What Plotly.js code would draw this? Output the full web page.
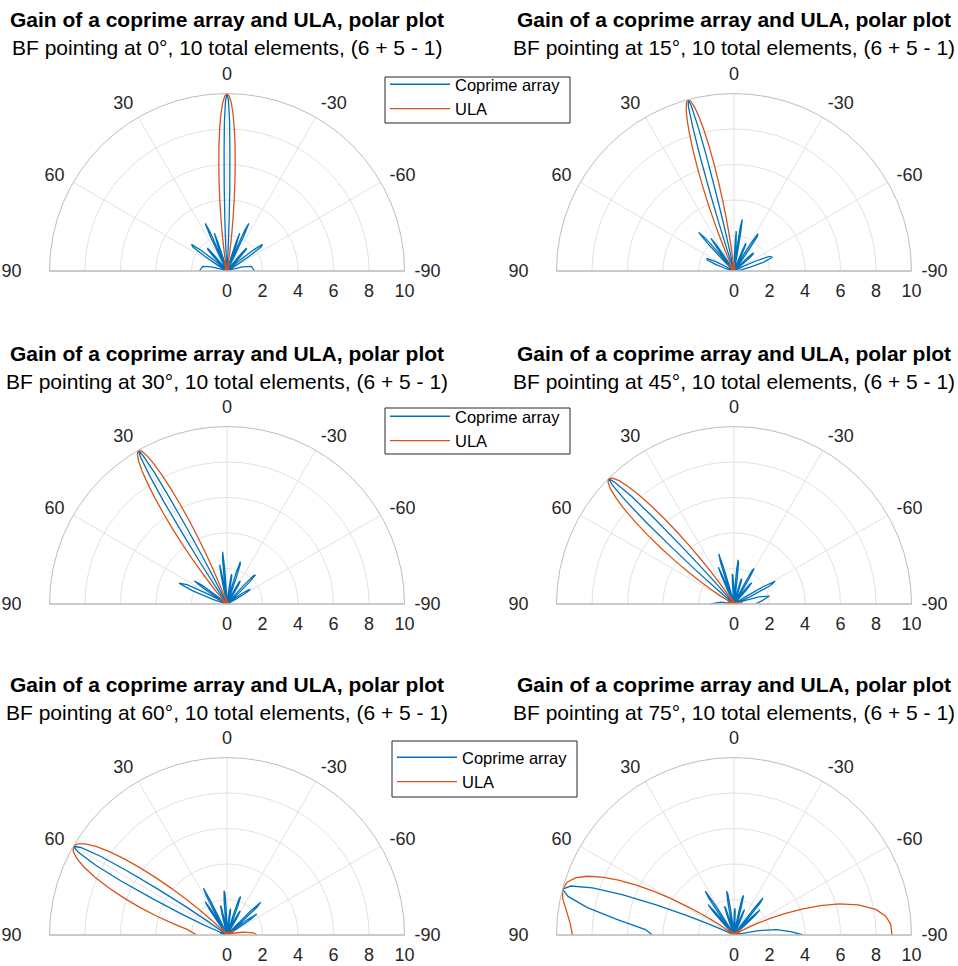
<!DOCTYPE html>
<html>
<head>
<meta charset="utf-8">
<script src="https://cdn.plot.ly/plotly-3.0.1.min.js"></script>
<style>
  html, body { margin: 0; padding: 0; background: #ffffff; }
  #chart { width: 958px; height: 966px; }
</style>
</head>
<body>
<div id="chart"></div>
<script>
// Beam-steering angles of the six panels (degrees)
const steerAngles = [0, 15, 30, 45, 60, 75];
const mainTitle = 'Gain of a coprime array and ULA, polar plot';
const subTitles = steerAngles.map(a => 'BF pointing at ' + a + '°, 10 total elements, (6 + 5 - 1)');
const seriesNames = ['Coprime array', 'ULA'];
const thetaTickVals = [-90, -60, -30, 0, 30, 60, 90];
const thetaTickText = ['-90', '-60', '-30', '0', '30', '60', '90\u2003'];
const gainTickVals = [0, 2, 4, 6, 8, 10];

// Gain patterns as [theta (deg), gain] pairs, theta running from -90 to 90
const coprime00 = [[-90,1.55],[-79.4,1.4],[-75.2,0.9],[-71.8,0.35],[-68.9,0.1],[-64.2,0.1],[-60.1,0.1],[-58.2,0.6],[-56.4,1.5],[-54.8,2.35],[-53.1,2.5],[-51.5,1.9],[-50.1,1.0],[-48.6,0.35],[-47.1,0.1],[-45.8,0.2],[-44.4,0.5],[-43.1,1.1],[-41.8,1.6],[-40.5,1.7],[-39.3,1.2],[-38.1,0.5],[-36.9,0.1],[-34.5,0.1],[-32.2,0.1],[-30,0.2],[-27.8,0.1],[-26.7,0.8],[-25.7,2.1],[-24.6,2.95],[-23.6,2.5],[-22.5,1.1],[-21.5,0.15],[-20.5,0.45],[-19.5,1.6],[-18.5,2.25],[-17.5,1.75],[-16.4,0.75],[-15.5,0.1],[-13.5,0.2],[-11.5,0.1],[-9.6,0.1],[-7.6,0.1],[-5.7,0.4],[-3.8,0.1],[-3.3,0.55],[-2.9,1.5],[-2.4,2.9],[-1.9,4.7],[-1.4,6.7],[-1.0,8.4],[-0.5,9.6],[0,10],[0.5,9.6],[1.0,8.4],[1.4,6.7],[1.9,4.7],[2.4,2.9],[2.9,1.5],[3.3,0.55],[3.8,0.1],[5.7,0.4],[7.6,0.1],[9.6,0.1],[11.5,0.1],[13.5,0.2],[15.5,0.1],[16.4,0.75],[17.5,1.75],[18.5,2.25],[19.5,1.6],[20.5,0.45],[21.5,0.15],[22.5,1.1],[23.6,2.5],[24.6,2.95],[25.7,2.1],[26.7,0.8],[27.8,0.1],[30,0.2],[32.2,0.1],[34.5,0.1],[36.9,0.1],[38.1,0.5],[39.3,1.2],[40.5,1.7],[41.8,1.6],[43.1,1.1],[44.4,0.5],[45.8,0.2],[47.1,0.1],[48.6,0.35],[50.1,1.0],[51.5,1.9],[53.1,2.5],[54.8,2.35],[56.4,1.5],[58.2,0.6],[60.1,0.1],[64.2,0.1],[68.9,0.1],[71.8,0.35],[75.2,0.9],[79.4,1.4],[90,1.55]];

const ula00 = [[-90,0],[-64.2,0.1],[-53.1,0],[-44.4,0.13],[-36.9,0],[-30,0.2],[-23.6,0],[-20.5,0.18],[-17.5,0.49],[-14.5,0.34],[-11.5,0],[-10.8,0.05],[-10.1,0.2],[-9.35,0.48],[-8.6,0.92],[-7.9,1.5],[-7.2,2.24],[-6.46,3.1],[-5.74,4.09],[-5.02,5.13],[-4.3,6.18],[-3.58,7.2],[-2.87,8.12],[-2.15,8.91],[-1.43,9.5],[-0.72,9.86],[0,10],[0.72,9.86],[1.43,9.5],[2.15,8.91],[2.87,8.12],[3.58,7.2],[4.3,6.18],[5.02,5.13],[5.74,4.09],[6.46,3.1],[7.2,2.24],[7.9,1.5],[8.6,0.92],[9.35,0.48],[10.1,0.2],[10.8,0.05],[11.5,0],[14.5,0.34],[17.5,0.49],[20.5,0.18],[23.6,0],[30,0.2],[36.9,0],[44.4,0.13],[53.1,0],[64.2,0.1],[90,0]];

const coprime15 = [[-90,0.2],[-82.4,0.3],[-77.0,0.9],[-73.4,1.75],[-70.25,2.3],[-67.55,2.15],[-65.3,1.35],[-63.0,0.55],[-61.0,0.1],[-57.3,0.1],[-53.9,0.1],[-52.3,0.3],[-50.7,0.8],[-49.3,1.3],[-47.8,1.5],[-46.4,1.4],[-45.1,0.9],[-43.7,0.35],[-42.4,0.1],[-39.9,0.1],[-37.5,0.1],[-36.2,0.6],[-35.05,1.5],[-33.9,2.35],[-32.8,2.5],[-31.6,1.9],[-30.5,1.0],[-29.4,0.35],[-28.3,0.1],[-27.3,0.2],[-26.2,0.5],[-25.1,1.1],[-24.1,1.6],[-23.0,1.7],[-22.0,1.2],[-21.0,0.5],[-19.95,0.1],[-17.95,0.1],[-15.9,0.1],[-14.0,0.2],[-12.0,0.1],[-11.0,0.8],[-10.0,2.1],[-9.1,2.95],[-8.1,2.5],[-7.1,1.1],[-6.2,0.15],[-5.2,0.45],[-4.3,1.6],[-3.3,2.25],[-2.4,1.75],[-1.4,0.75],[-0.5,0.1],[1.5,0.2],[3.4,0.1],[5.3,0.1],[7.2,0.1],[9.1,0.4],[11.1,0.1],[11.6,0.55],[12.05,1.5],[12.5,2.9],[13.05,4.7],[13.5,6.7],[14.0,8.4],[14.5,9.6],[15,10],[15.5,9.6],[16.0,8.4],[16.5,6.7],[17.0,4.7],[17.5,2.9],[18.0,1.5],[18.5,0.55],[19.0,0.1],[21.0,0.4],[23.1,0.1],[25.2,0.1],[27.3,0.1],[29.5,0.2],[31.7,0.1],[32.8,0.75],[34.0,1.75],[35.2,2.25],[36.3,1.6],[37.5,0.45],[38.7,0.15],[39.9,1.1],[41.2,2.5],[42.5,2.95],[43.8,2.1],[45.1,0.8],[46.5,0.1],[49.4,0.2],[52.4,0.1],[55.7,0.1],[59.2,0.1],[61.1,0.5],[63.1,1.2],[65.3,1.7],[67.8,1.6],[70.35,1.1],[73.5,0.5],[77.4,0.2],[82.7,0.1],[90,0.2]];

const ula15 = [[-90,0.05],[-70.25,0],[-57.3,0.1],[-47.8,0],[-39.9,0.1],[-32.8,0],[-26.2,0.13],[-19.95,0],[-14.0,0.2],[-8.1,0],[-5.2,0.18],[-2.4,0.49],[0.5,0.34],[3.4,0],[4.1,0.05],[4.8,0.2],[5.5,0.48],[6.25,0.92],[6.97,1.5],[7.69,2.24],[8.41,3.1],[9.14,4.09],[9.86,5.13],[10.59,6.18],[11.32,7.2],[12.05,8.12],[12.79,8.91],[13.52,9.5],[14.26,9.86],[15,10],[15.74,9.86],[16.49,9.5],[17.24,8.91],[17.99,8.12],[18.74,7.2],[19.5,6.18],[20.26,5.13],[21.03,4.09],[21.8,3.1],[22.57,2.24],[23.35,1.5],[24.13,0.92],[24.92,0.48],[25.71,0.2],[26.51,0.05],[27.31,0],[30.6,0.34],[34.0,0.49],[37.5,0.18],[41.2,0],[49.4,0.2],[59.2,0],[73.5,0.13],[90,0.05]];

const coprime30 = [[-90,0.2],[-75.2,0.1],[-68.9,0.1],[-64.2,0.1],[-62.0,0.45],[-60.1,1.1],[-58.2,1.55],[-56.4,1.45],[-54.8,1.0],[-53.1,0.45],[-51.5,0.2],[-50.1,0.1],[-48.6,0.3],[-47.1,0.9],[-45.8,1.75],[-44.4,2.3],[-43.1,2.15],[-41.8,1.35],[-40.5,0.55],[-39.3,0.1],[-36.9,0.1],[-34.5,0.1],[-33.4,0.3],[-32.2,0.8],[-31.1,1.3],[-30,1.5],[-28.9,1.4],[-27.8,0.9],[-26.7,0.35],[-25.7,0.1],[-23.6,0.1],[-21.5,0.1],[-20.5,0.6],[-19.45,1.5],[-18.5,2.35],[-17.5,2.5],[-16.4,1.9],[-15.5,1.0],[-14.5,0.35],[-13.5,0.1],[-12.5,0.2],[-11.5,0.5],[-10.5,1.1],[-9.6,1.6],[-8.6,1.7],[-7.6,1.2],[-6.7,0.5],[-5.7,0.1],[-3.8,0.1],[-1.9,0.1],[0,0.2],[1.9,0.1],[2.9,0.8],[3.8,2.1],[4.8,2.95],[5.7,2.5],[6.7,1.1],[7.6,0.15],[8.6,0.45],[9.6,1.6],[10.5,2.25],[11.5,1.75],[12.5,0.75],[13.5,0.1],[15.5,0.2],[17.5,0.1],[19.45,0.1],[21.5,0.1],[23.6,0.4],[25.7,0.1],[26.2,0.55],[26.7,1.5],[27.3,2.9],[27.8,4.7],[28.4,6.7],[28.9,8.4],[29.5,9.6],[30,10],[30.5,9.6],[31.1,8.4],[31.7,6.7],[32.2,4.7],[32.8,2.9],[33.4,1.5],[33.9,0.55],[34.5,0.1],[36.9,0.4],[39.3,0.1],[41.8,0.1],[44.4,0.1],[47.1,0.2],[50.1,0.1],[51.5,0.75],[53.1,1.75],[54.8,2.25],[56.4,1.6],[58.2,0.45],[60.1,0.15],[62.0,1.1],[64.2,2.5],[66.5,2.95],[68.9,2.1],[71.8,0.8],[75.2,0.1],[90,0.2]];

const ula30 = [[-90,0.2],[-64.2,0],[-53.1,0.13],[-44.4,0],[-36.9,0.1],[-30,0],[-23.6,0.1],[-17.5,0],[-11.5,0.13],[-5.7,0],[0,0.2],[5.7,0],[8.6,0.18],[11.5,0.49],[14.5,0.34],[17.46,0],[18.21,0.05],[18.97,0.2],[19.72,0.48],[20.49,0.92],[21.25,1.5],[22.02,2.24],[22.8,3.1],[23.58,4.09],[24.36,5.13],[25.15,6.18],[25.94,7.2],[26.74,8.12],[27.55,8.91],[28.36,9.5],[29.17,9.86],[30,10],[30.83,9.86],[31.67,9.5],[32.52,8.91],[33.37,8.12],[34.23,7.2],[35.1,6.18],[35.98,5.13],[36.87,4.09],[37.77,3.1],[38.68,2.24],[39.61,1.5],[40.54,0.92],[41.49,0.48],[42.45,0.2],[43.43,0.05],[44.43,0],[48.6,0.34],[53.1,0.49],[58.2,0.18],[64.2,0],[90,0.2]];

const coprime45 = [[-90,1.2],[-83.2,1.6],[-77.4,2.05],[-73.7,1.45],[-70.55,0.4],[-67.8,0.15],[-65.5,1.0],[-63.2,2.3],[-61.15,2.65],[-59.3,1.9],[-57.45,0.7],[-55.7,0.1],[-52.5,0.2],[-49.5,0.1],[-46.5,0.1],[-43.9,0.1],[-42.5,0.45],[-41.3,1.1],[-40.0,1.55],[-38.75,1.45],[-37.6,1.0],[-36.4,0.45],[-35.2,0.2],[-34.05,0.1],[-32.9,0.3],[-31.7,0.9],[-30.7,1.75],[-29.5,2.3],[-28.4,2.15],[-27.4,1.35],[-26.3,0.55],[-25.2,0.1],[-23.1,0.1],[-21.1,0.1],[-20.05,0.3],[-19.0,0.8],[-18.05,1.3],[-17.0,1.5],[-16.0,1.4],[-15.1,0.9],[-14.1,0.35],[-13.1,0.1],[-11.1,0.1],[-9.2,0.1],[-8.2,0.6],[-7.2,1.5],[-6.3,2.35],[-5.3,2.5],[-4.35,1.9],[-3.4,1.0],[-2.5,0.35],[-1.5,0.1],[-0.6,0.2],[0.4,0.5],[1.4,1.1],[2.3,1.6],[3.3,1.7],[4.25,1.2],[5.2,0.5],[6.15,0.1],[8.05,0.1],[10.0,0.1],[11.95,0.2],[13.9,0.1],[14.9,0.8],[15.9,2.1],[16.9,2.95],[17.9,2.5],[18.9,1.1],[19.9,0.15],[20.9,0.45],[22.0,1.6],[23.0,2.25],[24.0,1.75],[25.1,0.75],[26.1,0.1],[28.3,0.2],[30.5,0.1],[32.7,0.1],[35.0,0.1],[37.4,0.4],[39.8,0.1],[40.5,0.55],[41.1,1.5],[41.7,2.9],[42.4,4.7],[43.0,6.7],[43.6,8.4],[44.4,9.6],[45,10],[45.65,9.6],[46.4,8.4],[47.1,6.7],[47.7,4.7],[48.5,2.9],[49.2,1.5],[49.9,0.55],[50.7,0.1],[53.8,0.4],[57.15,0.1],[60.9,0.1],[65.1,0.1],[70.1,0.2],[76.9,0.1],[81.9,0.75],[90,1.3]];

const ula45 = [[-90,0.45],[-83.2,0.49],[-70.55,0.18],[-63.24,0],[-52.46,0.2],[-43.86,0],[-36.36,0.13],[-29.53,0],[-23.13,0.1],[-17.03,0],[-11.12,0.1],[-5.33,0],[0.41,0.13],[6.15,0],[11.95,0.2],[17.88,0],[20.92,0.18],[24.02,0.49],[27.2,0.34],[30.47,0],[31.31,0.05],[32.15,0.2],[33.0,0.48],[33.86,0.92],[34.72,1.5],[35.6,2.24],[36.48,3.1],[37.38,4.09],[38.29,5.13],[39.21,6.18],[40.13,7.2],[41.08,8.12],[42.03,8.91],[43.0,9.5],[43.99,9.86],[45,10],[46.02,9.86],[47.06,9.5],[48.12,8.91],[49.2,8.12],[50.31,7.2],[51.45,6.18],[52.61,5.13],[53.81,4.09],[55.04,3.1],[56.32,2.24],[57.63,1.5],[58.99,0.92],[60.41,0.48],[61.9,0.2],[63.44,0.05],[65.1,0],[73.14,0.34],[90,0.48]];

const coprime60 = [[-90,0.1],[-75.2,0.1],[-69.1,0.1],[-64.3,0.2],[-60.1,0.1],[-58.3,0.7],[-56.5,1.6],[-54.8,2.05],[-53.2,1.45],[-51.6,0.4],[-50.1,0.15],[-48.7,1.0],[-47.2,2.3],[-45.8,2.65],[-44.5,1.9],[-43.2,0.7],[-41.8,0.1],[-39.35,0.2],[-36.9,0.1],[-34.5,0.1],[-32.3,0.1],[-31.1,0.45],[-30.1,1.1],[-28.95,1.55],[-27.8,1.45],[-26.8,1.0],[-25.7,0.45],[-24.6,0.2],[-23.6,0.1],[-22.6,0.3],[-21.5,0.9],[-20.55,1.75],[-19.5,2.3],[-18.5,2.15],[-17.5,1.35],[-16.5,0.55],[-15.5,0.1],[-13.5,0.1],[-11.6,0.1],[-10.6,0.3],[-9.6,0.8],[-8.7,1.3],[-7.7,1.5],[-6.7,1.4],[-5.8,0.9],[-4.8,0.35],[-3.8,0.1],[-1.95,0.1],[-0.1,0.1],[0.9,0.6],[1.9,1.5],[2.8,2.35],[3.8,2.5],[4.8,1.9],[5.7,1.0],[6.7,0.35],[7.6,0.1],[8.6,0.2],[9.6,0.5],[10.5,1.1],[11.5,1.6],[12.5,1.7],[13.5,1.2],[14.4,0.5],[15.4,0.1],[17.4,0.1],[19.45,0.1],[21.5,0.2],[23.5,0.1],[24.6,0.8],[25.7,2.1],[26.7,2.95],[27.8,2.5],[28.9,1.1],[29.9,0.15],[31.1,0.45],[32.2,1.6],[33.3,2.25],[34.5,1.75],[35.7,0.75],[36.8,0.1],[39.3,0.2],[41.8,0.1],[44.35,0.1],[47.1,0.1],[50.0,0.4],[53.0,0.1],[53.9,0.55],[54.7,1.5],[55.5,2.9],[56.4,4.7],[57.3,6.7],[58.1,8.4],[59.1,9.6],[60,10],[60.9,9.6],[62.0,8.4],[63.0,6.7],[64.0,4.7],[65.2,2.9],[66.4,1.5],[67.5,0.55],[68.9,0.1],[75.0,0.4],[87.4,0.1],[90,0.1]];

const ula60 = [[-90,1.7],[-85.2,1.5],[-79.74,0.92],[-76.3,0.48],[-73.53,0.2],[-71.18,0.05],[-69.07,0],[-62.13,0.34],[-56.51,0.49],[-51.63,0.18],[-47.23,0],[-39.35,0.2],[-32.28,0],[-25.72,0.13],[-19.51,0],[-13.53,0.1],[-7.7,0],[-1.95,0.1],[3.78,0],[9.56,0.13],[15.43,0],[21.47,0.2],[27.77,0],[31.06,0.18],[34.47,0.49],[38.03,0.34],[41.76,0],[42.73,0.05],[43.71,0.2],[44.71,0.48],[45.73,0.92],[46.76,1.5],[47.82,2.24],[48.89,3.1],[50.0,4.09],[51.12,5.13],[52.28,6.18],[53.47,7.2],[54.69,8.12],[55.95,8.91],[57.27,9.5],[58.61,9.86],[60,10],[61.45,9.86],[62.99,9.5],[64.62,8.91],[66.36,8.12],[68.21,7.2],[70.22,6.18],[72.47,5.13],[75.03,4.09],[78.09,3.1],[82.3,2.24],[90,1.7]];

const coprime75 = [[-90,3.9],[-86.5,3.2],[-82.8,2.4],[-79.8,1.4],[-75.25,0.1],[-69.1,0.35],[-64.3,0.1],[-60.1,0.1],[-56.5,0.1],[-53.2,0.2],[-50.1,0.1],[-48.7,0.7],[-47.2,1.6],[-45.8,2.05],[-44.5,1.45],[-43.2,0.4],[-41.8,0.15],[-40.6,1.0],[-39.4,2.3],[-38.1,2.65],[-36.95,1.9],[-35.7,0.7],[-34.55,0.1],[-32.3,0.2],[-30.1,0.1],[-27.85,0.1],[-25.7,0.1],[-24.65,0.45],[-23.65,1.1],[-22.6,1.55],[-21.5,1.45],[-20.6,1.0],[-19.5,0.45],[-18.5,0.2],[-17.5,0.1],[-16.5,0.3],[-15.5,0.9],[-14.5,1.75],[-13.5,2.3],[-12.5,2.15],[-11.6,1.35],[-10.6,0.55],[-9.6,0.1],[-7.7,0.1],[-5.8,0.1],[-4.8,0.3],[-3.85,0.8],[-2.9,1.3],[-1.95,1.5],[-1.0,1.4],[-0.1,0.9],[0.9,0.35],[1.9,0.1],[3.8,0.1],[5.7,0.1],[6.7,0.6],[7.6,1.5],[8.6,2.35],[9.55,2.5],[10.5,1.9],[11.5,1.0],[12.5,0.35],[13.5,0.1],[14.4,0.2],[15.4,0.5],[16.4,1.1],[17.4,1.6],[18.4,1.7],[19.45,1.2],[20.4,0.5],[21.5,0.1],[23.5,0.1],[25.65,0.1],[27.8,0.2],[29.9,0.1],[31.1,0.8],[32.2,2.1],[33.3,2.95],[34.5,2.5],[35.65,1.1],[36.8,0.15],[38.0,0.45],[39.3,1.6],[40.5,2.25],[41.75,1.75],[43.1,0.75],[44.3,0.1],[47.1,0.2],[50.0,0.1],[53.0,0.1],[56.4,0.1],[60.0,0.4],[64.0,0.1],[65.2,0.55],[66.3,1.5],[67.5,2.9],[68.9,4.7],[70.2,6.7],[71.6,8.4],[73.3,9.6],[75,10],[76.9,9.6],[79.4,8.4],[82.3,6.7],[86.5,5.0],[90,4.6]];

const ula75 = [[-90,8.9],[-86,8.85],[-82.8,8.6],[-79.77,8.12],[-76.32,7.2],[-73.55,6.18],[-71.2,5.13],[-69.07,4.09],[-67.17,3.1],[-65.38,2.24],[-63.71,1.5],[-62.14,0.92],[-60.65,0.48],[-59.21,0.2],[-57.84,0.05],[-56.52,0],[-51.64,0.34],[-47.24,0.49],[-43.17,0.18],[-39.36,0],[-32.28,0.2],[-25.73,0],[-19.52,0.13],[-13.54,0],[-7.71,0.1],[-1.95,0],[3.78,0.1],[9.55,0],[15.42,0.13],[21.46,0],[27.77,0.2],[34.46,0],[38.02,0.18],[41.75,0.49],[45.72,0.34],[49.98,0],[51.12,0.05],[52.27,0.2],[53.46,0.48],[54.68,0.92],[55.94,1.5],[57.24,2.24],[58.58,3.1],[59.98,4.09],[61.44,5.13],[62.98,6.18],[64.61,7.2],[66.33,8.12],[68.19,8.91],[70.2,9.5],[72.45,9.86],[75,10],[78.07,9.86],[82.27,9.5],[86,9.25],[90,9.1]];

const coprimeSeries = [coprime00, coprime15, coprime30, coprime45, coprime60, coprime75];
const ulaSeries = [ula00, ula15, ula30, ula45, ula60, ula75];

// ---- styling / layout ----
const FONT = 'Liberation Sans, Arial, Helvetica, sans-serif';
const BLUE = '#0072BD';
const ORANGE = '#D95319';
const FRAME = '#bdbdbd';
const GRID = '#e2e2e2';
const W = 958, H = 966;
const R = 177.5;                       // polar radius in px
const colCenters = [227, 734];         // x of polar centres
const rowCenters = [271, 604, 935];    // y of polar centres
const legendNames = ['legend', 'legend2', 'legend3'];
// legend frames: [left, top, right, bottom] in px, and first-entry centre
const legendBoxes = [[385, 77, 570, 123], [385, 408, 570, 454], [392, 741, 577, 797]];
const legendFirstRow = [86, 418, 759];

function polarAxes(cx, cy) {
  return {
    domain: {
      x: [(cx - R) / W, (cx + R) / W],
      y: [(H - cy) / H, (H - cy + R) / H]
    },
    sector: [0, 180],
    bgcolor: '#ffffff',
    angularaxis: {
      rotation: 90,
      direction: 'counterclockwise',
      tickmode: 'array',
      tickvals: thetaTickVals,
      ticktext: thetaTickText,
      ticks: 'outside',
      ticklen: 6,
      tickcolor: 'rgba(0,0,0,0)',
      showline: true,
      linecolor: FRAME,
      linewidth: 1,
      showgrid: true,
      gridcolor: GRID,
      gridwidth: 1,
      tickfont: { family: FONT, size: 18, color: '#262626' }
    },
    radialaxis: {
      range: [0, 10],
      angle: 0,
      tickmode: 'array',
      tickvals: gainTickVals,
      ticks: 'outside',
      ticklen: 4,
      tickcolor: 'rgba(0,0,0,0)',
      showline: true,
      linecolor: FRAME,
      linewidth: 1,
      showgrid: true,
      gridcolor: GRID,
      gridwidth: 1,
      tickangle: 0,
      tickfont: { family: FONT, size: 18, color: '#262626' }
    }
  };
}

const traces = [];
const layout = {
  width: W, height: H,
  margin: { l: 0, r: 0, t: 0, b: 0 },
  paper_bgcolor: '#ffffff',
  font: { family: FONT },
  annotations: [],
  shapes: [],
  showlegend: true
};

for (let i = 0; i < 6; i++) {
  const row = Math.floor(i / 2), col = i % 2;
  const cx = colCenters[col], cy = rowCenters[row];
  const key = i === 0 ? 'polar' : 'polar' + (i + 1);
  layout[key] = polarAxes(cx, cy);

  const common = { type: 'scatterpolar', mode: 'lines', subplot: key,
                   hoverinfo: 'skip', showlegend: col === 0, legend: legendNames[row] };
  traces.push(Object.assign({}, common, {
    name: seriesNames[0],
    theta: coprimeSeries[i].map(p => p[0]),
    r: coprimeSeries[i].map(p => p[1]),
    line: { color: BLUE, width: 1.3 }
  }));
  traces.push(Object.assign({}, common, {
    name: seriesNames[1],
    theta: ulaSeries[i].map(p => p[0]),
    r: ulaSeries[i].map(p => p[1]),
    line: { color: ORANGE, width: 1.3 }
  }));

  // left half of the base line (the right half is the radial axis line)
  layout.shapes.push({
    type: 'line', xref: 'paper', yref: 'paper', layer: 'above',
    x0: (cx - R) / W, x1: cx / W, y0: (H - cy) / H, y1: (H - cy) / H,
    line: { color: FRAME, width: 1 }
  });

  layout.annotations.push({
    text: mainTitle, xref: 'paper', yref: 'paper',
    x: cx / W, y: (H - (cy - 251)) / H, xanchor: 'center', yanchor: 'middle',
    showarrow: false, font: { family: FONT, size: 21, color: '#000', weight: 'bold' }
  });
  layout.annotations.push({
    text: subTitles[i], xref: 'paper', yref: 'paper',
    x: cx / W, y: (H - (cy - 223)) / H, xanchor: 'center', yanchor: 'middle',
    showarrow: false, font: { family: FONT, size: 21, color: '#000' }
  });
}

legendNames.forEach((name, k) => {
  const b = legendBoxes[k];
  layout.shapes.push({
    type: 'rect', xref: 'paper', yref: 'paper', layer: 'above',
    x0: b[0] / W, x1: b[2] / W, y0: (H - b[3]) / H, y1: (H - b[1]) / H,
    line: { color: '#262626', width: 1 }, fillcolor: '#ffffff'
  });
  layout[name] = {
    x: b[0] / W, y: (H - (legendFirstRow[k] - 19)) / H,
    xanchor: 'left', yanchor: 'top',
    bgcolor: 'rgba(0,0,0,0)', borderwidth: 0,
    font: { family: FONT, size: 16.5, color: '#000' },
    itemwidth: 60, tracegroupgap: 0
  };
});

Plotly.newPlot('chart', traces, layout, { staticPlot: true, displayModeBar: false });
</script>
</body>
</html>
